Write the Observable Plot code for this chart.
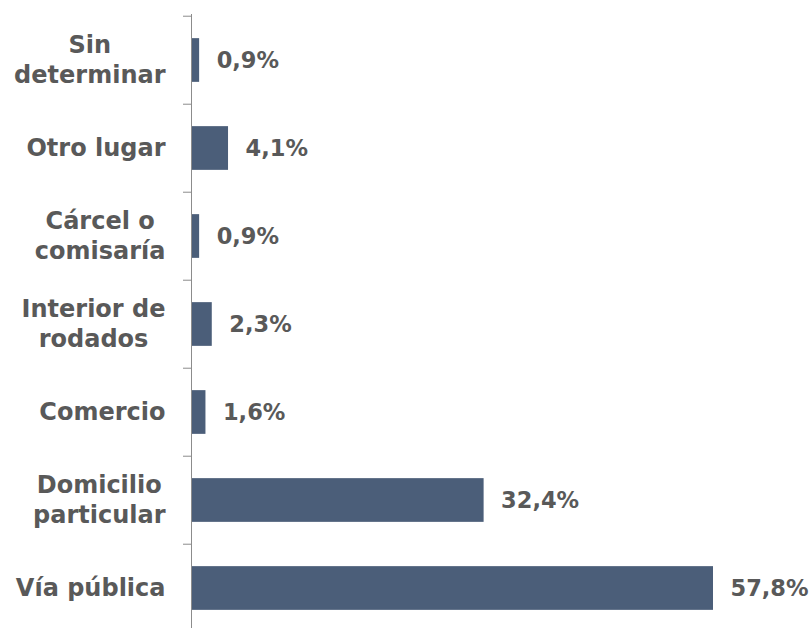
<!DOCTYPE html>
<html>
<head>
<meta charset="utf-8">
<script src="https://cdn.jsdelivr.net/npm/d3@7"></script>
<script src="https://cdn.jsdelivr.net/npm/@observablehq/plot@0.6"></script>
<style>
  html, body { margin: 0; padding: 0; background: #fff; }
  #chart svg { display: block; }
</style>
</head>
<body>
<div id="chart"></div>
<script>
const categories = ["Sin determinar", "Otro lugar", "Cárcel o comisaría", "Interior de rodados", "Comercio", "Domicilio particular", "Vía pública"];
const tickLabels = ["Sin\ndeterminar", "Otro lugar", "Cárcel o\ncomisaría", "Interior de\nrodados", "Comercio", "Domicilio\nparticular", "Vía pública"];
const values = [0.9, 4.1, 0.9, 2.3, 1.6, 32.4, 57.8];

const data = categories.map((c, i) => ({cat: c, value: values[i]}));
const fmt = v => v.toFixed(1).replace(".", ",") + "%";

const W = 811, H = 628;
const yRange = [14, 634];
const step = (yRange[1] - yRange[0]) / categories.length;
const FONT = "'DejaVu Sans', sans-serif";
const FS = 24;
const FSV = 22.5;
const LH = 30;
const TEXT = "#595959";
const BAR = "#4b5e79";

// measure text so multi-line labels are right-aligned as a block, lines centred within it
const ctx = document.createElement("canvas").getContext("2d");
ctx.font = `bold ${FS}px ${FONT}`;
const labelLines = [];
categories.forEach((c, i) => {
  const lines = tickLabels[i].split("\n");
  const bw = Math.max(...lines.map(l => ctx.measureText(l).width));
  lines.forEach((l, j) => labelLines.push({cat: c, line: l, j, n: lines.length, bw}));
});

const chart = Plot.plot({
  width: W,
  height: H,
  marginLeft: 191,
  marginRight: 98,
  marginTop: 14,
  marginBottom: 0,
  style: {fontFamily: FONT, background: "#fff"},
  x: {domain: [0, 57.8], axis: null},
  y: {domain: categories, range: yRange, padding: 0, axis: null},
  marks: [
    Plot.barX(data, {x: "value", y: "cat", fill: BAR, insetTop: step / 4, insetBottom: step / 4}),
    ...labelLines.map(d => Plot.text([d], {
      y: "cat", frameAnchor: "left", text: "line",
      dx: -26 - d.bw / 2, dy: (d.j - (d.n - 1) / 2) * LH,
      textAnchor: "middle", fontSize: FS, fontWeight: "bold", fill: TEXT
    })),
    Plot.axisY({label: null, tickSize: 8, text: null, dy: -step / 2, stroke: "#8c8c8c"}),
    Plot.ruleX([0], {stroke: "#8c8c8c", strokeWidth: 1}),
    Plot.text(data, {x: "value", y: "cat", text: d => fmt(d.value), dx: 17, textAnchor: "start", fontSize: FSV, fontWeight: "bold", fill: TEXT})
  ]
});
document.getElementById("chart").appendChild(chart);
</script>
</body>
</html>
